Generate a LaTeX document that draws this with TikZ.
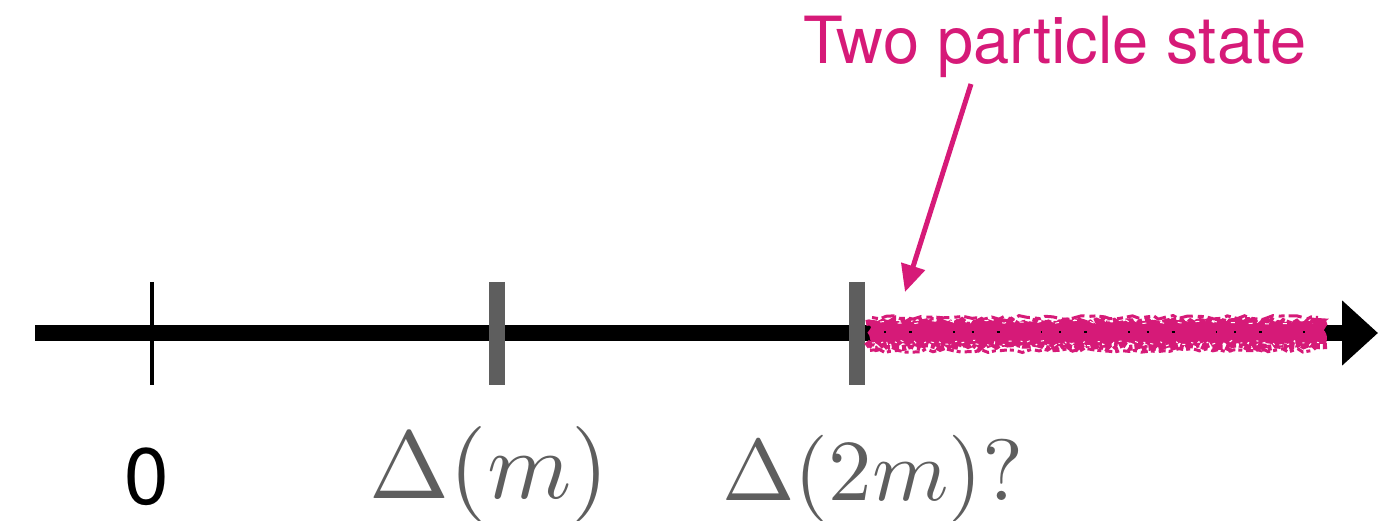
\documentclass[tikz,border=0pt]{standalone}
\usepackage{fontspec}
\setsansfont{TeX Gyre Heros}
\usepackage{graphicx}
\usetikzlibrary{decorations.pathmorphing,arrows.meta}
\definecolor{pinkc}{HTML}{D61A78}
\definecolor{grayc}{HTML}{5E5E5E}
\tikzset{
  axisline/.style={line width=16pt, -{Triangle[length=36pt,width=63pt]}},
  thintick/.style={line width=4.5pt, black},
  graytick/.style={line width=16pt, grayc},
  mathlabel/.style={anchor=base west, inner sep=0pt, text=grayc},
  pinkarrow/.style={pinkc, line width=5pt, -{Triangle[length=27pt,width=24pt]}},
  scrib/.style={decorate, decoration={random steps, segment length=4pt, amplitude=3pt}},
  scribwide/.style={decorate, decoration={random steps, segment length=7pt, amplitude=2pt}},
}
\begin{document}
\begin{tikzpicture}[x=1pt,y=-1pt]
\useasboundingbox (0,0) rectangle (1378,521);
% axis
\coordinate (a0) at (35,333);
\coordinate (a1) at (1378,333);
\draw[axisline] (a0) -- (a1);
% ticks
\coordinate (t0a) at (152,282); \coordinate (t0b) at (152,385);
\coordinate (t1a) at (497,282); \coordinate (t1b) at (497,385);
\coordinate (t2a) at (857,282); \coordinate (t2b) at (857,385);
\draw[thintick] (t0a) -- (t0b);
\draw[graytick] (t1a) -- (t1b);
\draw[graytick] (t2a) -- (t2b);
% scribble band
\pgfmathsetseed{23}
\fill[pinkc, scrib] (868,321) -- (1326,321) -- (1326,345) -- (868,345) -- cycle;
\draw[pinkc, scrib, line width=6pt, dash pattern=on 11pt off 2pt on 5pt off 3pt] (866,323) -- (1326,323);
\draw[pinkc, scribwide, line width=3pt, dash pattern=on 6pt off 4pt on 13pt off 5pt] (872,317.5) -- (1318,317.5);
\draw[pinkc, scrib, line width=6pt, dash pattern=on 8pt off 3pt on 4pt off 2pt] (866,346) -- (1327,346);
\draw[pinkc, scribwide, line width=3pt, dash pattern=on 4pt off 4pt on 7pt off 3pt] (870,350.5) -- (1312,350.5);
\draw[white, scrib, line width=1pt, dash pattern=on 3pt off 9pt on 2pt off 5pt] (872,343) -- (1320,343);
\draw[white, scribwide, line width=1pt, dash pattern=on 4pt off 14pt] (880,322) -- (1316,322);
\draw[black, line width=1.6pt, dash pattern=on 2pt off 23pt on 3pt off 41pt on 1.5pt off 17pt] (884,332) -- (1318,332);
% labels
\node[anchor=base, inner sep=0pt, font=\sffamily\fontsize{80}{80}\selectfont] (l0) at (146.5,504) {0};
\node[mathlabel] (l1) at (369.6,498) {\scalebox{9.6}{$\Delta(m)$}};
\node[mathlabel] (l2) at (722.1,500) {\scalebox{8.7}{$\Delta(2m)?$}};
\node[anchor=base west, inner sep=0pt, text=pinkc, font=\sffamily\fontsize{65}{65}\selectfont] (lbl) at (803,64) {Two particle state};
% pink arrow
\coordinate (pa) at (971,84);
\coordinate (pb) at (905,292);
\draw[pinkarrow] (pa) -- (pb);
\end{tikzpicture}
\end{document}
